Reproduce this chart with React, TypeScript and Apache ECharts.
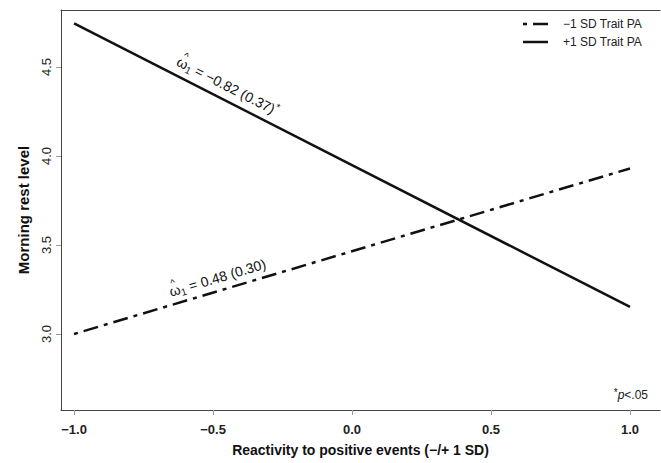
import React, { useEffect, useRef } from 'react';
import * as echarts from 'echarts';

const xTicks = [-1.0, -0.5, 0.0, 0.5, 1.0];
const yTicks = [3.0, 3.5, 4.0, 4.5];
const xEnds = [-1.0, 1.0];
const lowTraitPA = [3.0, 3.93];
const highTraitPA = [4.745, 3.152];
const seriesNames = ['−1 SD Trait PA', '+1 SD Trait PA'];
// annotation for [low, high] lines
const annotationRest = [' = 0.48 (0.30)', ' = −0.82 (0.37)'];
const annotationStar = ['', '*'];
const annotationX = [-0.47, -0.47];
const xRange = [-1.047, 1.108];
const yRange = [2.573, 4.82];

const FONT = "'Liberation Sans', Arial, sans-serif";
const DASHDOT = [4, 6, 15, 6];

function fmt(v: number): string {
  const s = Math.abs(v).toFixed(1);
  return v < 0 ? '−' + s : s;
}

function measure(text: string, size: number): number {
  const c = document.createElement('canvas').getContext('2d');
  if (!c) return text.length * size * 0.55;
  c.font = `${size}px ${FONT}`;
  return c.measureText(text).width;
}

export default function App() {
  const ref = useRef<HTMLDivElement>(null);
  useEffect(() => {
    if (!ref.current) return;
    const chart = echarts.init(ref.current, null, { renderer: 'svg' });
    const lowData = xEnds.map((x, i) => [x, lowTraitPA[i]]);
    const highData = xEnds.map((x, i) => [x, highTraitPA[i]]);
    chart.setOption({
      animation: false,
      backgroundColor: '#ffffff',
      grid: { left: 61, top: 10, right: 1, bottom: 53, containLabel: false },
      xAxis: [
        {
          type: 'value',
          min: xRange[0],
          max: xRange[1],
          position: 'bottom',
          name: 'Reactivity to positive events (−/+ 1 SD)',
          nameLocation: 'middle',
          nameGap: 33,
          nameTextStyle: { fontFamily: FONT, fontSize: 14, fontWeight: 'bold', color: '#111' },
          axisLine: { show: true, lineStyle: { color: '#444', width: 1 } },
          axisTick: { show: true, length: 5, lineStyle: { color: '#999' }, customValues: xTicks },
          axisLabel: {
            customValues: xTicks,
            formatter: (v: number) => fmt(v),
            fontFamily: FONT,
            fontSize: 13,
            fontWeight: 'bold',
            color: '#222',
            margin: 13,
          },
          splitLine: { show: false },
        },
        {
          type: 'value',
          min: xRange[0],
          max: xRange[1],
          position: 'top',
          axisLine: { show: true, onZero: false, lineStyle: { color: '#444', width: 1 } },
          axisTick: { show: false },
          axisLabel: { show: false },
          splitLine: { show: false },
        },
      ],
      yAxis: {
        type: 'value',
        min: yRange[0],
        max: yRange[1],
        name: 'Morning rest level',
        nameLocation: 'middle',
        nameGap: 30,
        nameTextStyle: { fontFamily: FONT, fontSize: 15, fontWeight: 'bold', color: '#111' },
        axisLine: { show: true, onZero: false, lineStyle: { color: '#444', width: 1 } },
        axisTick: { show: true, length: 5, lineStyle: { color: '#999' }, customValues: yTicks },
        axisLabel: {
          customValues: yTicks,
          formatter: (v: number) => fmt(v),
          rotate: 90,
          fontFamily: FONT,
          fontSize: 13,
          color: '#222',
          margin: 8,
        },
        splitLine: { show: false },
      },
      series: [
        {
          name: seriesNames[0],
          type: 'line',
          xAxisIndex: 0,
          data: lowData,
          symbol: 'none',
          lineStyle: { color: '#111', width: 2.5, type: DASHDOT },
        },
        {
          name: seriesNames[1],
          type: 'line',
          xAxisIndex: 0,
          data: highData,
          symbol: 'none',
          lineStyle: { color: '#111', width: 2.5, type: 'solid' },
        },
      ],
    });

    const lines = [lowTraitPA, highTraitPA];
    const offsets = [13, 14];
    const rich = {
      s: { fontFamily: FONT, fontSize: 10, verticalAlign: 'bottom', fill: '#111' },
      p: { fontFamily: FONT, fontSize: 10, verticalAlign: 'top', fill: '#111' },
      i: { fontFamily: FONT, fontSize: 12, fontStyle: 'italic', fill: '#111' },
    };
    const annGraphics = lines.map((vals, k) => {
      const p0 = chart.convertToPixel({ gridIndex: 0 }, [xEnds[0], vals[0]]) as number[];
      const p1 = chart.convertToPixel({ gridIndex: 0 }, [xEnds[1], vals[1]]) as number[];
      const a = Math.atan2(-(p1[1] - p0[1]), p1[0] - p0[0]);
      const t = (annotationX[k] - xEnds[0]) / (xEnds[1] - xEnds[0]);
      const yv = vals[0] + t * (vals[1] - vals[0]);
      const p = chart.convertToPixel({ gridIndex: 0 }, [annotationX[k], yv]) as number[];
      const off = offsets[k];
      const wOmega = measure('ω', 14);
      const w = wOmega + measure('1', 10) + measure(annotationRest[k], 14) + measure(annotationStar[k], 10);
      const x0 = -w / 2;
      const starPart = annotationStar[k] ? `{p|${annotationStar[k]}}` : '';
      return {
        type: 'group',
        x: p[0] - Math.sin(a) * off,
        y: p[1] - Math.cos(a) * off,
        rotation: a,
        children: [
          {
            type: 'text',
            x: x0,
            y: 0,
            style: {
              text: `ω{s|1}${annotationRest[k]}${starPart}`,
              rich,
              fontFamily: FONT,
              fontSize: 14,
              lineHeight: 18,
              fill: '#111',
              align: 'left',
              verticalAlign: 'middle',
            },
          },
          {
            type: 'text',
            x: x0 + wOmega / 2,
            y: -8,
            style: {
              text: '^',
              fontFamily: FONT,
              fontSize: 10,
              fill: '#111',
              align: 'center',
              verticalAlign: 'middle',
            },
          },
        ],
      };
    });

    const legendX = 523;
    const legendY = [24, 42];
    const legendGraphics: any[] = [
      {
        type: 'line',
        shape: { x1: legendX, y1: legendY[0], x2: legendX + 25, y2: legendY[0] },
        style: { stroke: '#111', lineWidth: 2.5, lineDash: DASHDOT },
      },
      {
        type: 'line',
        shape: { x1: legendX, y1: legendY[1], x2: legendX + 25, y2: legendY[1] },
        style: { stroke: '#111', lineWidth: 2.5 },
      },
      {
        type: 'text',
        x: legendX + 40,
        y: legendY[0],
        style: { text: seriesNames[0], fontFamily: FONT, fontSize: 12, fill: '#222', verticalAlign: 'middle' },
      },
      {
        type: 'text',
        x: legendX + 40,
        y: legendY[1],
        style: { text: seriesNames[1], fontFamily: FONT, fontSize: 12, fill: '#222', verticalAlign: 'middle' },
      },
      {
        type: 'text',
        x: 648,
        y: 395,
        style: {
          text: '{p|*}{i|p}<.05',
          rich,
          fontFamily: FONT,
          fontSize: 12,
          lineHeight: 16,
          fill: '#222',
          align: 'right',
          verticalAlign: 'middle',
        },
      },
    ];

    chart.setOption({ graphic: [...annGraphics, ...legendGraphics] });

    return () => chart.dispose();
  }, []);

  return (
    <div
      ref={ref}
      style={{ position: 'fixed', left: 0, top: 0, width: 661, height: 463, background: '#fff' }}
    />
  );
}
